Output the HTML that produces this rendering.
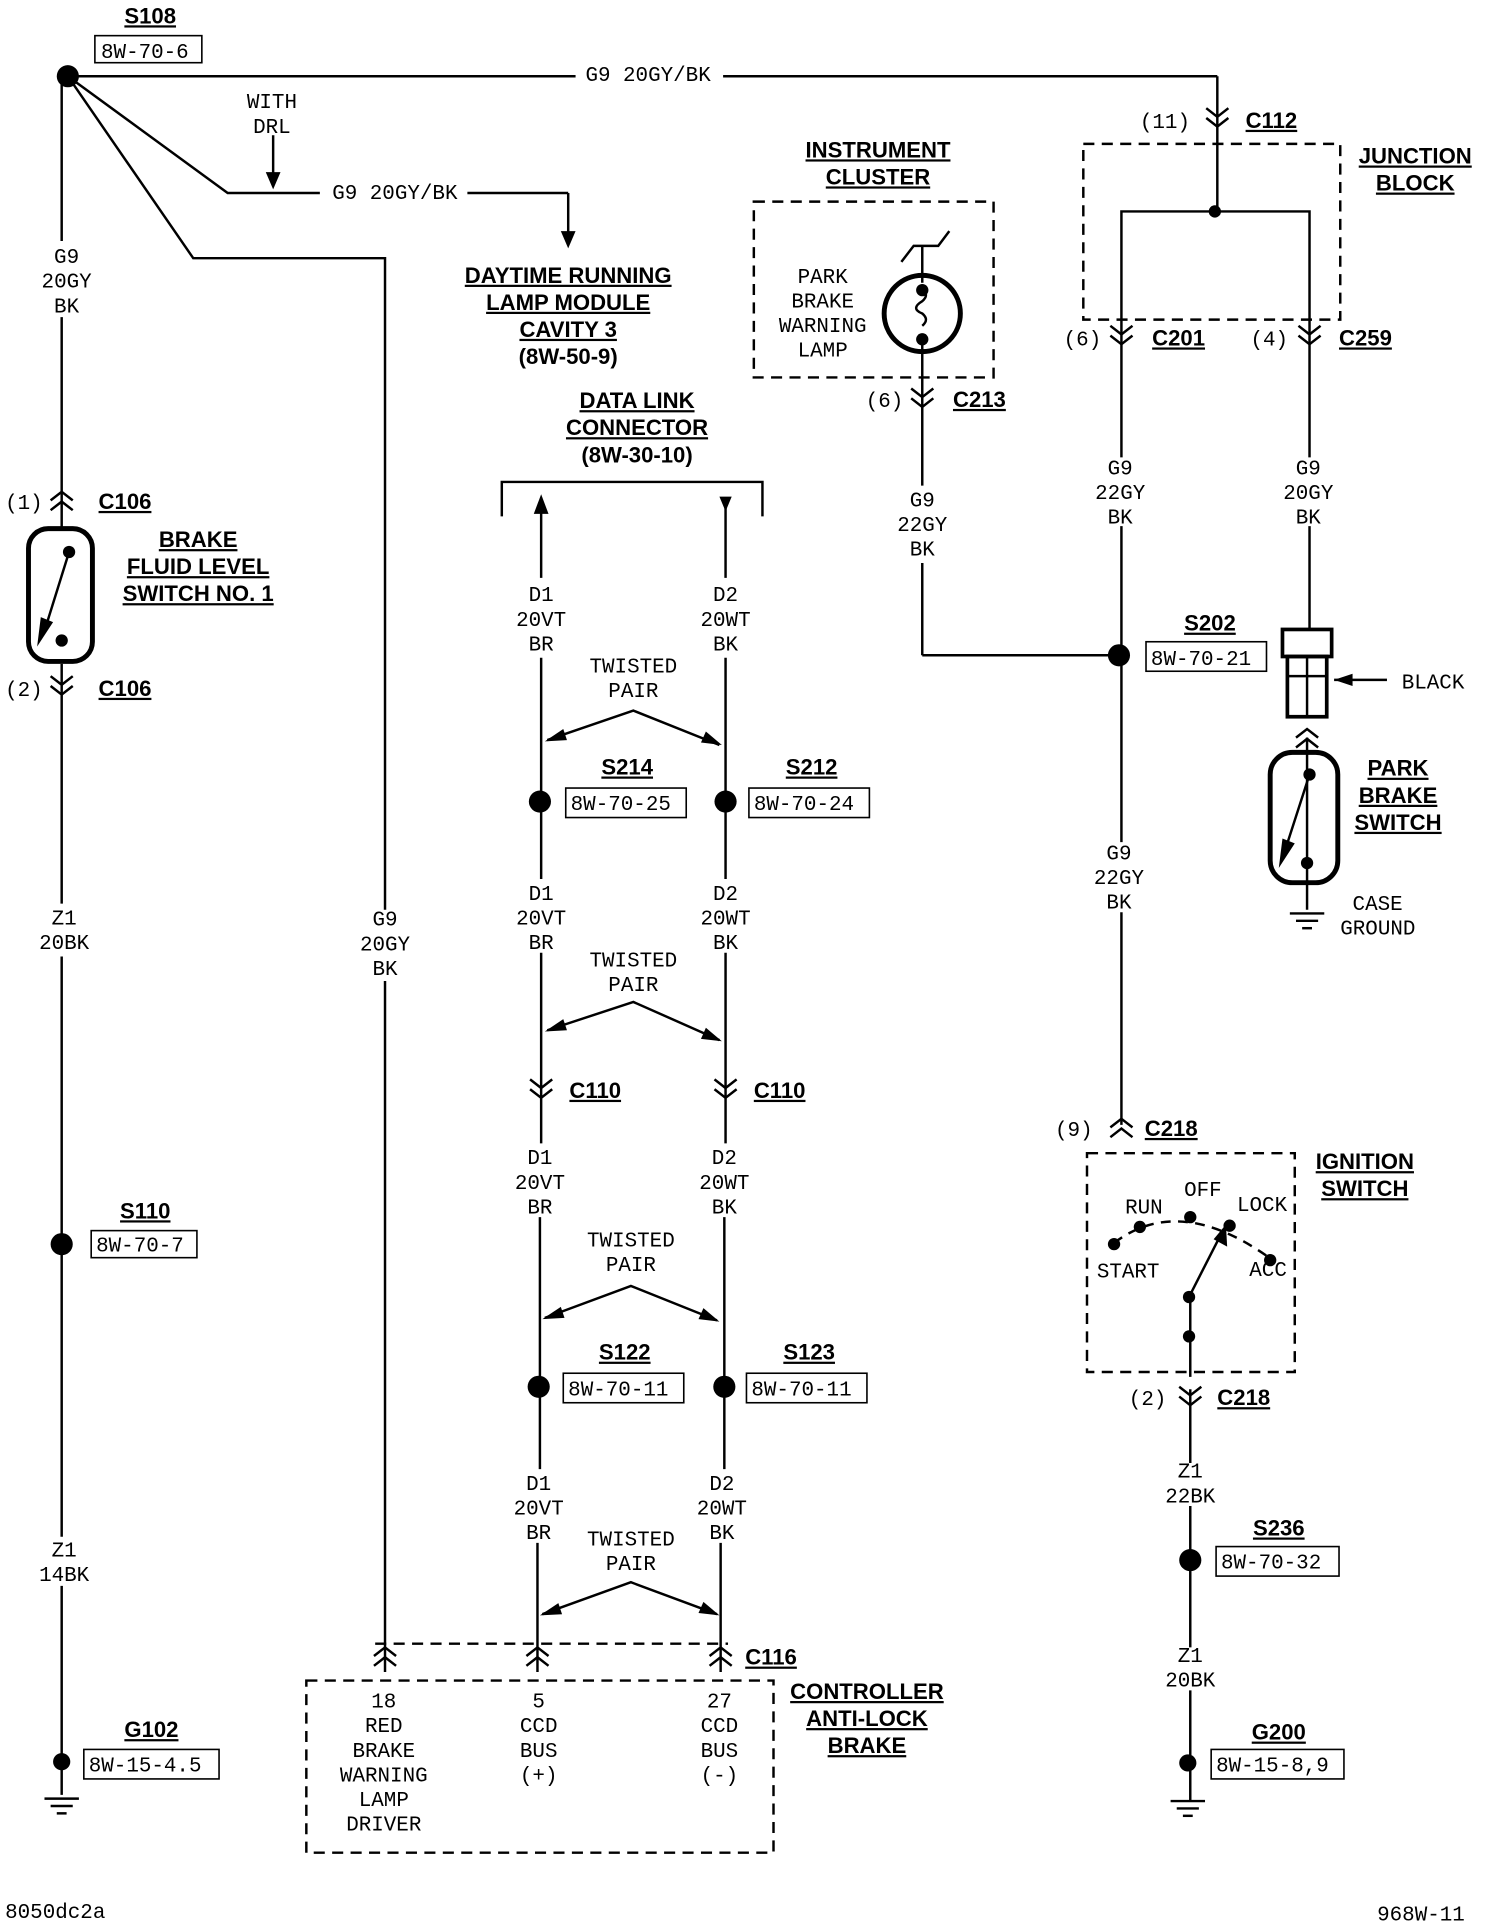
<!DOCTYPE html>
<html><head><meta charset="utf-8"><style>
html,body{margin:0;padding:0;background:#fff;}
svg{display:block;}
text{font-family:"Liberation Mono","DejaVu Sans Mono",monospace;font-size:17px;fill:#000;}
.b{font-family:"Liberation Sans",sans-serif;font-weight:bold;font-size:18px;text-decoration:underline;}
.c{text-anchor:middle;}
</style></head><body>
<svg width="1488" height="1924" viewBox="0 0 1210 1565" xmlns="http://www.w3.org/2000/svg">
<defs>
<g id="up" fill="none" stroke="#000" stroke-width="2"><path d="M-9,2 L0,-5 L9,2 M-9,10 L0,3 L9,10"/></g>
<g id="dn" fill="none" stroke="#000" stroke-width="2"><path d="M-9,-2 L0,5 L9,-2 M-9,-10 L0,-3 L9,-10"/></g>
<g id="gnd" stroke="#000" stroke-width="2"><line x1="-14" y1="0" x2="14" y2="0"/><line x1="-9" y1="6" x2="9" y2="6"/><line x1="-4" y1="12" x2="4" y2="12"/></g>
</defs>
<g stroke="#000" stroke-width="2" fill="none">
<line x1="55" y1="62" x2="468" y2="62"/><line x1="588" y1="62" x2="990" y2="62"/>
<line x1="990" y1="62" x2="990" y2="172"/>
<polyline points="55,62 185,157 260,157"/><line x1="380" y1="157" x2="462" y2="157"/><line x1="462" y1="157" x2="462" y2="198"/>
<line x1="222" y1="110" x2="222" y2="150"/>
<polyline points="55,62 157,210 313,210 313,740"/><line x1="313" y1="798" x2="313" y2="1360"/>
<line x1="50" y1="62" x2="50" y2="196"/><line x1="50" y1="258" x2="50" y2="430"/>
<line x1="50" y1="540" x2="50" y2="735"/><line x1="50" y1="778" x2="50" y2="1250"/><line x1="50" y1="1290" x2="50" y2="1460"/>
<rect x="23" y="430" width="52" height="108" rx="16" stroke-width="4"/>
<line x1="56" y1="449" x2="37" y2="510"/>
<rect x="881" y="117" width="209" height="143" stroke-dasharray="9,6"/>
<polyline points="912,290 912,172 1065,172 1065,290"/>
<line x1="912" y1="290" x2="912" y2="372"/><line x1="912" y1="428" x2="912" y2="685"/><line x1="912" y1="742" x2="912" y2="915"/>
<line x1="1065" y1="290" x2="1065" y2="372"/><line x1="1065" y1="428" x2="1065" y2="512"/>
<rect x="1043" y="512" width="40" height="22" stroke-width="3"/>
<rect x="1047" y="534" width="32" height="49" stroke-width="3"/>
<line x1="1063" y1="534" x2="1063" y2="583"/><line x1="1047" y1="550" x2="1079" y2="550"/>
<line x1="1085" y1="553" x2="1128" y2="553"/>
<line x1="1063" y1="600" x2="1063" y2="740"/>
<rect x="1033" y="612" width="55" height="106" rx="18" stroke-width="4"/>
<line x1="1065" y1="630" x2="1045" y2="692"/>
<rect x="613" y="164" width="195" height="143" stroke-dasharray="9,6"/>
<circle cx="750" cy="255" r="31" stroke-width="4"/>
<polyline points="733,213 743,200 763,200 772,188"/>
<line x1="750" y1="200" x2="750" y2="230"/>
<line x1="750" y1="280" x2="750" y2="395"/><line x1="750" y1="458" x2="750" y2="533"/><line x1="750" y1="533" x2="910" y2="533"/>
<path d="M750,235 q6,5 0,10 q-10,6 0,10 q6,5 0,10"/>
<polyline points="408,420 408,392 620,392 620,420"/>
<line x1="440" y1="405" x2="440" y2="470"/><line x1="590" y1="405" x2="590" y2="470"/>
<line x1="440" y1="535" x2="440" y2="715"/><line x1="590" y1="535" x2="590" y2="715"/>
<line x1="440" y1="775" x2="440" y2="930"/><line x1="590" y1="775" x2="590" y2="930"/>
<line x1="439" y1="990" x2="439" y2="1195"/><line x1="589" y1="990" x2="589" y2="1195"/>
<line x1="437" y1="1255" x2="437" y2="1360"/><line x1="586" y1="1255" x2="586" y2="1360"/>
<polyline points="445,602 515,578 585,606"/><polyline points="445,838 515,815 585,846"/>
<polyline points="443,1072 513,1046 583,1074"/><polyline points="441,1313 513,1287 583,1313"/>
<line x1="305" y1="1337" x2="592" y2="1337" stroke-dasharray="9,6"/>
<rect x="249" y="1367" width="380" height="140" stroke-dasharray="9,6"/>
<rect x="884" y="938" width="169" height="178" stroke-dasharray="9,6"/>
<path d="M906,1011 Q960,970 1035,1025" stroke-dasharray="8,6"/>
<line x1="968" y1="1120" x2="968" y2="1053"/><line x1="968" y1="1053" x2="995" y2="1000"/>
<line x1="968" y1="1130" x2="968" y2="1190"/><line x1="968" y1="1225" x2="968" y2="1340"/><line x1="968" y1="1375" x2="968" y2="1465"/>
</g>
<g fill="#000">
<polygon points="222,154 216,140 228,140"/>
<polygon points="462,202 456,188 468,188"/>
<polygon points="440,402 434,418 446,418"/>
<polygon points="590,416 585,404 595,404"/>
<polygon points="30,526 33,502 43,506"/>
<polygon points="1040,706 1043,682 1053,686"/>
<polygon points="997,996 998,1014 987,1008"/>
<polygon points="1085,553 1100,548 1100,558"/>
<polygon points="443,603 458,593 461,602"/><polygon points="587,606 570,604 574,595"/>
<polygon points="443,839 458,829 461,838"/><polygon points="587,847 570,845 574,836"/>
<polygon points="441,1073 456,1063 459,1072"/><polygon points="585,1075 568,1073 572,1064"/>
<polygon points="439,1314 454,1304 457,1313"/><polygon points="585,1314 568,1312 572,1303"/>
<circle cx="55" cy="62" r="9"/><circle cx="50" cy="1012" r="9"/><circle cx="50" cy="1433" r="7"/>
<circle cx="56" cy="449" r="5"/><circle cx="50" cy="521" r="5"/>
<circle cx="988" cy="172" r="5"/><circle cx="910" cy="533" r="9"/>
<circle cx="439" cy="652" r="9"/><circle cx="590" cy="652" r="9"/>
<circle cx="438" cy="1128" r="9"/><circle cx="589" cy="1128" r="9"/>
<circle cx="968" cy="1269" r="9"/><circle cx="966" cy="1434" r="7"/>
<circle cx="750" cy="236" r="5"/><circle cx="750" cy="276" r="5"/>
<circle cx="1065" cy="630" r="5"/><circle cx="1063" cy="702" r="5"/>
<circle cx="906" cy="1012" r="5"/><circle cx="927" cy="998" r="5"/><circle cx="968" cy="990" r="5"/><circle cx="1000" cy="997" r="5"/><circle cx="1033" cy="1025" r="5"/>
<circle cx="967" cy="1055" r="5"/><circle cx="967" cy="1087" r="5"/>
</g>
<use href="#dn" x="990" y="98"/><use href="#up" x="50" y="405"/><use href="#dn" x="50" y="560"/>
<use href="#dn" x="912" y="275"/><use href="#dn" x="1065" y="275"/><use href="#dn" x="750" y="326"/>
<use href="#dn" x="440" y="888"/><use href="#dn" x="590" y="888"/>
<use href="#up" x="912" y="915"/><use href="#dn" x="968" y="1138"/>
<use href="#up" x="313" y="1345"/><use href="#up" x="437" y="1345"/><use href="#up" x="586" y="1345"/>
<use href="#up" x="1063" y="598"/>
<use href="#gnd" x="50" y="1463"/><use href="#gnd" x="1063" y="743"/><use href="#gnd" x="966" y="1465"/>
<g fill="none" stroke="#000" stroke-width="1.3">
<rect x="77" y="29" width="87" height="22"/><rect x="74" y="1001" width="86" height="22"/><rect x="68" y="1423" width="110" height="24"/>
<rect x="932" y="522" width="98" height="24"/><rect x="460" y="641" width="98" height="24"/><rect x="609" y="641" width="98" height="24"/>
<rect x="458" y="1117" width="98" height="24"/><rect x="607" y="1117" width="98" height="24"/>
<rect x="989" y="1258" width="100" height="24"/><rect x="985" y="1423" width="108" height="24"/>
</g>
<text class="b c" x="122" y="19">S108</text><text x="82" y="47">8W-70-6</text>
<text class="c" x="527" y="66">G9 20GY/BK</text>
<text class="c" x="221" y="88">WITH</text><text class="c" x="221" y="108">DRL</text>
<text class="c" x="321" y="162">G9 20GY/BK</text>
<text class="c" x="54" y="214">G9</text><text class="c" x="54" y="234">20GY</text><text class="c" x="54" y="254">BK</text>
<text x="4" y="414">(1)</text><text class="b" x="80" y="414">C106</text>
<text class="b c" x="161" y="445">BRAKE</text><text class="b c" x="161" y="467">FLUID LEVEL</text><text class="b c" x="161" y="489">SWITCH NO. 1</text>
<text x="4" y="566">(2)</text><text class="b" x="80" y="566">C106</text>
<text class="c" x="52" y="752">Z1</text><text class="c" x="52" y="772">20BK</text>
<text class="b c" x="118" y="991">S110</text><text x="78" y="1018">8W-70-7</text>
<text class="c" x="52" y="1266">Z1</text><text class="c" x="52" y="1286">14BK</text>
<text class="b c" x="123" y="1413">G102</text><text x="72" y="1441">8W-15-4.5</text>
<text class="c" x="313" y="753">G9</text><text class="c" x="313" y="773">20GY</text><text class="c" x="313" y="793">BK</text>
<text class="b c" x="462" y="230">DAYTIME RUNNING</text><text class="b c" x="462" y="252">LAMP MODULE</text><text class="b c" x="462" y="274">CAVITY 3</text><text class="b c" x="462" y="296" style="text-decoration:none">(8W-50-9)</text>
<text class="b c" x="518" y="332">DATA LINK</text><text class="b c" x="518" y="354">CONNECTOR</text><text class="b c" x="518" y="376" style="text-decoration:none">(8W-30-10)</text>
<text class="c" x="440" y="489">D1</text><text class="c" x="440" y="509">20VT</text><text class="c" x="440" y="529">BR</text>
<text class="c" x="590" y="489">D2</text><text class="c" x="590" y="509">20WT</text><text class="c" x="590" y="529">BK</text>
<text class="c" x="515" y="547">TWISTED</text><text class="c" x="515" y="567">PAIR</text>
<text class="b c" x="510" y="630">S214</text><text x="464" y="659">8W-70-25</text>
<text class="b c" x="660" y="630">S212</text><text x="613" y="659">8W-70-24</text>
<text class="c" x="440" y="732">D1</text><text class="c" x="440" y="752">20VT</text><text class="c" x="440" y="772">BR</text>
<text class="c" x="590" y="732">D2</text><text class="c" x="590" y="752">20WT</text><text class="c" x="590" y="772">BK</text>
<text class="c" x="515" y="786">TWISTED</text><text class="c" x="515" y="806">PAIR</text>
<text class="b" x="463" y="893">C110</text><text class="b" x="613" y="893">C110</text>
<text class="c" x="439" y="947">D1</text><text class="c" x="439" y="967">20VT</text><text class="c" x="439" y="987">BR</text>
<text class="c" x="589" y="947">D2</text><text class="c" x="589" y="967">20WT</text><text class="c" x="589" y="987">BK</text>
<text class="c" x="513" y="1014">TWISTED</text><text class="c" x="513" y="1034">PAIR</text>
<text class="b c" x="508" y="1106">S122</text><text x="462" y="1135">8W-70-11</text>
<text class="b c" x="658" y="1106">S123</text><text x="611" y="1135">8W-70-11</text>
<text class="c" x="438" y="1212">D1</text><text class="c" x="438" y="1232">20VT</text><text class="c" x="438" y="1252">BR</text>
<text class="c" x="587" y="1212">D2</text><text class="c" x="587" y="1232">20WT</text><text class="c" x="587" y="1252">BK</text>
<text class="c" x="513" y="1257">TWISTED</text><text class="c" x="513" y="1277">PAIR</text>
<text class="b" x="606" y="1354">C116</text>
<text class="b c" x="705" y="1382">CONTROLLER</text><text class="b c" x="705" y="1404">ANTI-LOCK</text><text class="b c" x="705" y="1426">BRAKE</text>
<text class="c" x="312" y="1389">18</text><text class="c" x="312" y="1409">RED</text><text class="c" x="312" y="1429">BRAKE</text><text class="c" x="312" y="1449">WARNING</text><text class="c" x="312" y="1469">LAMP</text><text class="c" x="312" y="1489">DRIVER</text>
<text class="c" x="438" y="1389">5</text><text class="c" x="438" y="1409">CCD</text><text class="c" x="438" y="1429">BUS</text><text class="c" x="438" y="1449">(+)</text>
<text class="c" x="585" y="1389">27</text><text class="c" x="585" y="1409">CCD</text><text class="c" x="585" y="1429">BUS</text><text class="c" x="585" y="1449">(-)</text>
<text class="b c" x="714" y="128">INSTRUMENT</text><text class="b c" x="714" y="150">CLUSTER</text>
<text class="c" x="669" y="230">PARK</text><text class="c" x="669" y="250">BRAKE</text><text class="c" x="669" y="270">WARNING</text><text class="c" x="669" y="290">LAMP</text>
<text x="704" y="331">(6)</text><text class="b" x="775" y="331">C213</text>
<text class="c" x="750" y="412">G9</text><text class="c" x="750" y="432">22GY</text><text class="c" x="750" y="452">BK</text>
<text x="927" y="104">(11)</text><text class="b" x="1013" y="104">C112</text>
<text class="b c" x="1151" y="133">JUNCTION</text><text class="b c" x="1151" y="155">BLOCK</text>
<text x="865" y="281">(6)</text><text class="b" x="937" y="281">C201</text>
<text x="1017" y="281">(4)</text><text class="b" x="1089" y="281">C259</text>
<text class="c" x="911" y="386">G9</text><text class="c" x="911" y="406">22GY</text><text class="c" x="911" y="426">BK</text>
<text class="c" x="1064" y="386">G9</text><text class="c" x="1064" y="406">20GY</text><text class="c" x="1064" y="426">BK</text>
<text class="b c" x="984" y="513">S202</text><text x="936" y="541">8W-70-21</text>
<text x="1140" y="560">BLACK</text>
<text class="b c" x="1137" y="631">PARK</text><text class="b c" x="1137" y="653">BRAKE</text><text class="b c" x="1137" y="675">SWITCH</text>
<text x="1100" y="740">CASE</text><text x="1090" y="760">GROUND</text>
<text class="c" x="910" y="699">G9</text><text class="c" x="910" y="719">22GY</text><text class="c" x="910" y="739">BK</text>
<text x="858" y="924">(9)</text><text class="b" x="931" y="924">C218</text>
<text class="b c" x="1110" y="951">IGNITION</text><text class="b c" x="1110" y="973">SWITCH</text>
<text x="915" y="987">RUN</text><text x="963" y="973">OFF</text><text x="1006" y="985">LOCK</text>
<text x="892" y="1039">START</text><text x="1016" y="1038">ACC</text>
<text x="918" y="1143">(2)</text><text class="b" x="990" y="1143">C218</text>
<text class="c" x="968" y="1202">Z1</text><text class="c" x="968" y="1222">22BK</text>
<text class="b c" x="1040" y="1249">S236</text><text x="993" y="1276">8W-70-32</text>
<text class="c" x="968" y="1352">Z1</text><text class="c" x="968" y="1372">20BK</text>
<text class="b c" x="1040" y="1415">G200</text><text x="989" y="1441">8W-15-8,9</text>
<text x="4" y="1560">8050dc2a</text><text x="1120" y="1562">968W-11</text>
</svg>
</body></html>
